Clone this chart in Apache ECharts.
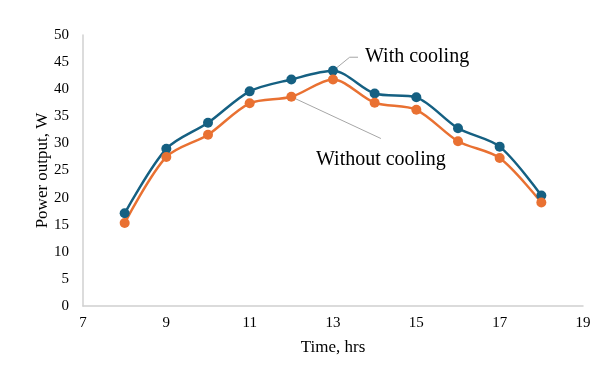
<!DOCTYPE html>
<html>
<head>
<meta charset="utf-8">
<script src="https://cdn.jsdelivr.net/npm/echarts@6/dist/echarts.min.js"></script>
<style>
  html, body { margin: 0; padding: 0; background: #fff; }
  #chart { width: 612px; height: 382px; }
</style>
</head>
<body>
<div id="chart"></div>
<script>
const hours = [8, 9, 10, 11, 12, 13, 14, 15, 16, 17, 18]
const withCooling = [17.1, 29.0, 33.8, 39.6, 41.8, 43.4, 39.2, 38.5, 32.8, 29.4, 20.4]
const withoutCooling = [15.3, 27.5, 31.6, 37.4, 38.6, 41.8, 37.5, 36.2, 30.4, 27.3, 19.1]

const font = '"Liberation Serif", "Times New Roman", serif'
const blue = '#156082'
const orange = '#E97132'

const chart = echarts.init(document.getElementById('chart'))

function pairs(ys) {
  return hours.map((h, i) => [h, ys[i]])
}

chart.setOption({
  animation: false,
  grid: { left: 83, right: 29, top: 35, bottom: 76 },
  xAxis: {
    type: 'value',
    min: 7, max: 19, interval: 2,
    name: 'Time, hrs',
    nameLocation: 'middle',
    nameGap: 33,
    nameMoveOverlap: false,
    nameTextStyle: { fontFamily: font, fontSize: 17, color: '#000' },
    axisLine: { lineStyle: { color: '#d0d0d0', width: 1.5 } },
    axisTick: { show: false },
    axisLabel: { fontFamily: font, fontSize: 15, color: '#000', margin: 10 },
    splitLine: { show: false }
  },
  yAxis: {
    type: 'value',
    min: 0, max: 50, interval: 5,
    name: 'Power output, W',
    nameLocation: 'middle',
    nameGap: 32,
    nameMoveOverlap: false,
    nameTextStyle: { fontFamily: font, fontSize: 17, color: '#000' },
    axisLine: { show: true, lineStyle: { color: '#d0d0d0', width: 1.5 } },
    axisTick: { show: false },
    axisLabel: { fontFamily: font, fontSize: 15, color: '#000', margin: 14 },
    splitLine: { show: false }
  },
  series: [
    {
      name: 'With cooling',
      type: 'line',
      data: pairs(withCooling),
      smooth: 0.3,
      symbol: 'circle',
      symbolSize: 10,
      lineStyle: { color: blue, width: 2.5 },
      itemStyle: { color: blue }
    },
    {
      name: 'Without cooling',
      type: 'line',
      data: pairs(withoutCooling),
      smooth: 0.3,
      symbol: 'circle',
      symbolSize: 10,
      lineStyle: { color: orange, width: 2.5 },
      itemStyle: { color: orange }
    }
  ]
})

// callout labels with leader lines, anchored on data points
const px = (x, y) => chart.convertToPixel({ gridIndex: 0 }, [x, y])
const a1 = px(hours[5], withCooling[5])
const b1 = px(13.4, 45.9)
const c1 = px(13.6, 45.9)
const a2 = px(hours[4], withoutCooling[4])
const b2 = px(14.15, 30.9)

chart.setOption({
  graphic: [
    {
      type: 'polyline',
      shape: { points: [a1, b1, c1] },
      style: { stroke: '#a6a6a6', lineWidth: 1, fill: null }
    },
    {
      type: 'text',
      x: c1[0] + 7, y: c1[1],
      style: { text: 'With cooling', font: '20px ' + font, fill: '#000', verticalAlign: 'middle' }
    },
    {
      type: 'line',
      shape: { x1: a2[0], y1: a2[1], x2: b2[0], y2: b2[1] },
      style: { stroke: '#a6a6a6', lineWidth: 1 }
    },
    {
      type: 'text',
      x: 316, y: 160,
      style: { text: 'Without cooling', font: '20px ' + font, fill: '#000', verticalAlign: 'middle' }
    }
  ]
})
</script>
</body>
</html>
